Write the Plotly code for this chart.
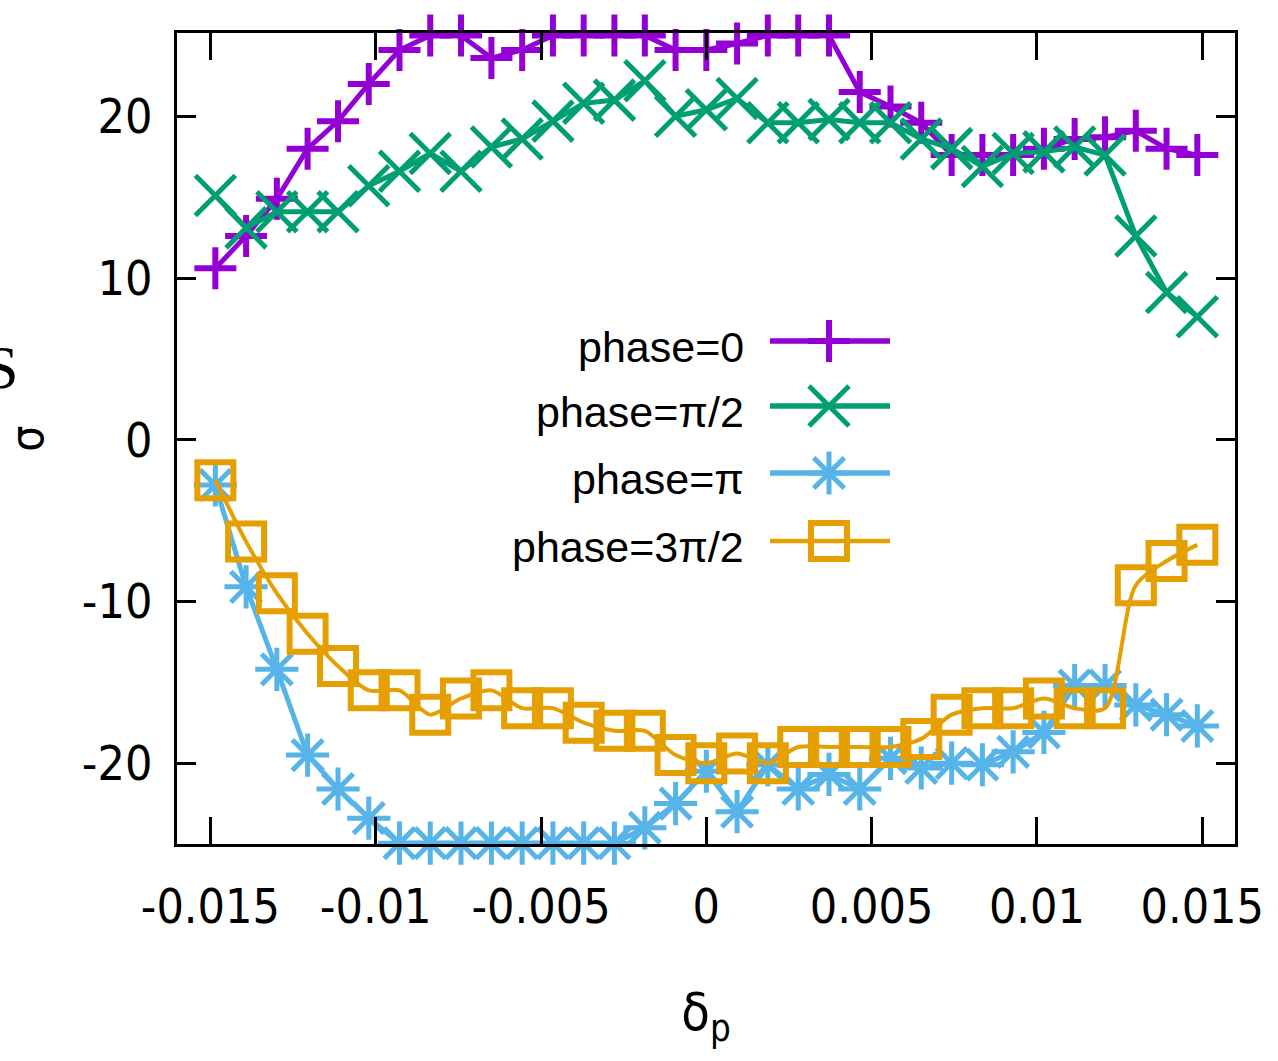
import plotly.graph_objects as go

# Momentum deviation sample points
delta_p = [-0.01485, -0.01392, -0.01299, -0.01206, -0.01114, -0.01021, -0.00928,
           -0.00835, -0.00742, -0.00650, -0.00557, -0.00464, -0.00371, -0.00278,
           -0.00186, -0.00093, 0.0, 0.00093, 0.00186, 0.00278, 0.00371, 0.00464,
           0.00557, 0.00650, 0.00742, 0.00835, 0.00928, 0.01021, 0.01114, 0.01206,
           0.01299, 0.01392, 0.01485]

sigma_phase_0 = [10.6, 12.6, 14.9, 18.0, 19.7, 22.0, 24.1, 25.0, 25.0, 23.6, 24.1,
                 25.0, 25.0, 25.0, 25.0, 24.1, 24.1, 24.5, 25.0, 25.0, 25.0, 21.5,
                 20.6, 19.6, 17.6, 17.6, 17.6, 18.0, 18.6, 18.7, 19.1, 18.0, 17.6]

sigma_phase_half_pi = [15.1, 13.1, 14.1, 14.1, 14.1, 15.7, 16.6, 17.7, 16.6, 18.1,
                       18.6, 19.7, 20.8, 21.0, 22.2, 20.0, 20.4, 21.1, 19.6, 19.6,
                       19.8, 19.6, 19.6, 18.6, 18.0, 16.9, 17.7, 17.8, 18.1, 17.6,
                       12.6, 9.1, 7.6]

sigma_phase_pi = [-2.8, -9.1, -14.2, -19.5, -21.6, -23.4, -24.95, -24.95, -24.95, -24.95,
                  -24.95, -24.95, -24.95, -24.95, -24.0, -22.5, -20.5, -23.0, -20.1, -21.6,
                  -20.7, -21.6, -19.7, -20.3, -20.0, -20.1, -19.3, -18.1, -15.2, -15.2,
                  -16.4, -17.0, -17.7]

sigma_phase_3half_pi = [-2.5, -6.3, -9.5, -12.0, -14.0, -15.5, -15.5, -17.0, -16.0,
                        -15.5, -16.6, -16.6, -17.5, -18.0, -18.0, -19.5, -20.0, -19.4,
                        -20.0, -19.0, -19.0, -19.0, -19.0, -18.5, -17.0, -16.6, -16.6,
                        -16.0, -16.6, -16.6, -9.0, -7.5, -6.5]

series_names = ["phase=0", "phase=π/2", "phase=π", "phase=3π/2"]
x_tick_vals = [-0.015, -0.01, -0.005, 0, 0.005, 0.01, 0.015]
x_tick_text = ["-0.015", "-0.01", "-0.005", "0", "0.005", "0.01", "0.015"]
y_tick_vals = [-20, -10, 0, 10, 20]
y_tick_text = ["-20", "-10", "0", "10", "20"]

# gnuplot default line colours and point types
styles = [
    dict(color="#9400d3", symbol="cross-thin-open", size=30, mlw=6, lw=5, shape="linear"),
    dict(color="#009e73", symbol="x-thin-open", size=40, mlw=5, lw=5, shape="linear"),
    dict(color="#56b4e9", symbol="asterisk-open", size=36, mlw=5, lw=5, shape="linear"),
    dict(color="#e69f00", symbol="square-open", size=36, mlw=6, lw=4, shape="spline"),
]
series = [sigma_phase_0, sigma_phase_half_pi, sigma_phase_pi, sigma_phase_3half_pi]

fig = go.Figure()
for name, ys, st in zip(series_names, series, styles):
    fig.add_trace(go.Scatter(
        x=delta_p, y=ys, name=name, mode="lines+markers",
        line=dict(color=st["color"], width=st["lw"], shape=st["shape"], smoothing=0.8),
        marker=dict(symbol=st["symbol"], size=st["size"], color=st["color"],
                    line=dict(color=st["color"], width=st["mlw"])),
        cliponaxis=False, showlegend=False,
    ))

# Key drawn in pixel-like coordinates on an overlay axis (text left, sample right)
key_rows = [341, 406, 473, 541]
key_line_x = [770, 890]
key_mark_x = 829
key_text_x = 746
for name, ky, st in zip(series_names, key_rows, styles):
    fig.add_trace(go.Scatter(
        x=key_line_x, y=[ky, ky], mode="lines", xaxis="x2", yaxis="y2",
        line=dict(color=st["color"], width=st["lw"] + 0.5),
        showlegend=False, hoverinfo="skip",
    ))
    fig.add_trace(go.Scatter(
        x=[key_mark_x], y=[ky], mode="markers", xaxis="x2", yaxis="y2",
        marker=dict(symbol=st["symbol"], size=st["size"], color=st["color"],
                    line=dict(color=st["color"], width=st["mlw"])),
        showlegend=False, hoverinfo="skip", cliponaxis=False,
    ))
    fig.add_annotation(
        x=key_text_x, y=ky + 6, xref="x2", yref="y2", text=name,
        showarrow=False, xanchor="right", yanchor="middle",
        font=dict(family="Liberation Sans, Arial, sans-serif", size=43, color="black"),
    )

tick_font = dict(family="DejaVu Sans Condensed, Liberation Sans Narrow, Liberation Sans, sans-serif",
                 size=48, color="black")

fig.update_layout(
    width=1278, height=1061,
    margin=dict(l=177, r=43, t=33, b=217, autoexpand=False),
    paper_bgcolor="white", plot_bgcolor="white",
    xaxis=dict(
        range=[-0.01601, 0.01599], tickvals=x_tick_vals, ticktext=x_tick_text,
        showgrid=False, zeroline=False, showline=True, linecolor="black", linewidth=3,
        mirror="ticks", ticks="inside", ticklen=27, tickwidth=3, tickcolor="black",
        tickfont=tick_font, ticklabelstandoff=18,
        title=dict(text="δ<sub>p</sub>", font=dict(family=tick_font["family"], size=52,
                                                   color="black"), standoff=62),
        automargin=False,
    ),
    yaxis=dict(
        range=[-25.0, 25.15], tickvals=y_tick_vals, ticktext=y_tick_text,
        showgrid=False, zeroline=False, showline=True, linecolor="black", linewidth=3,
        mirror="ticks", ticks="inside", ticklen=19, tickwidth=3, tickcolor="black",
        tickfont=tick_font, ticklabelstandoff=12,
        title=dict(text="σ", font=dict(family=tick_font["family"], size=46, color="black"),
                   standoff=50),
        automargin=False,
    ),
    xaxis2=dict(overlaying="x", anchor="y2", range=[177, 1235], visible=False),
    yaxis2=dict(overlaying="y", anchor="x2", range=[844, 33], visible=False),
)

fig.add_annotation(
    x=-0.148, y=0.588, xref="paper", yref="paper", text="S", showarrow=False,
    xanchor="right", yanchor="middle",
    font=dict(family="Liberation Serif, Times New Roman, serif", size=62, color="black"),
)

fig.write_html("out.html")
